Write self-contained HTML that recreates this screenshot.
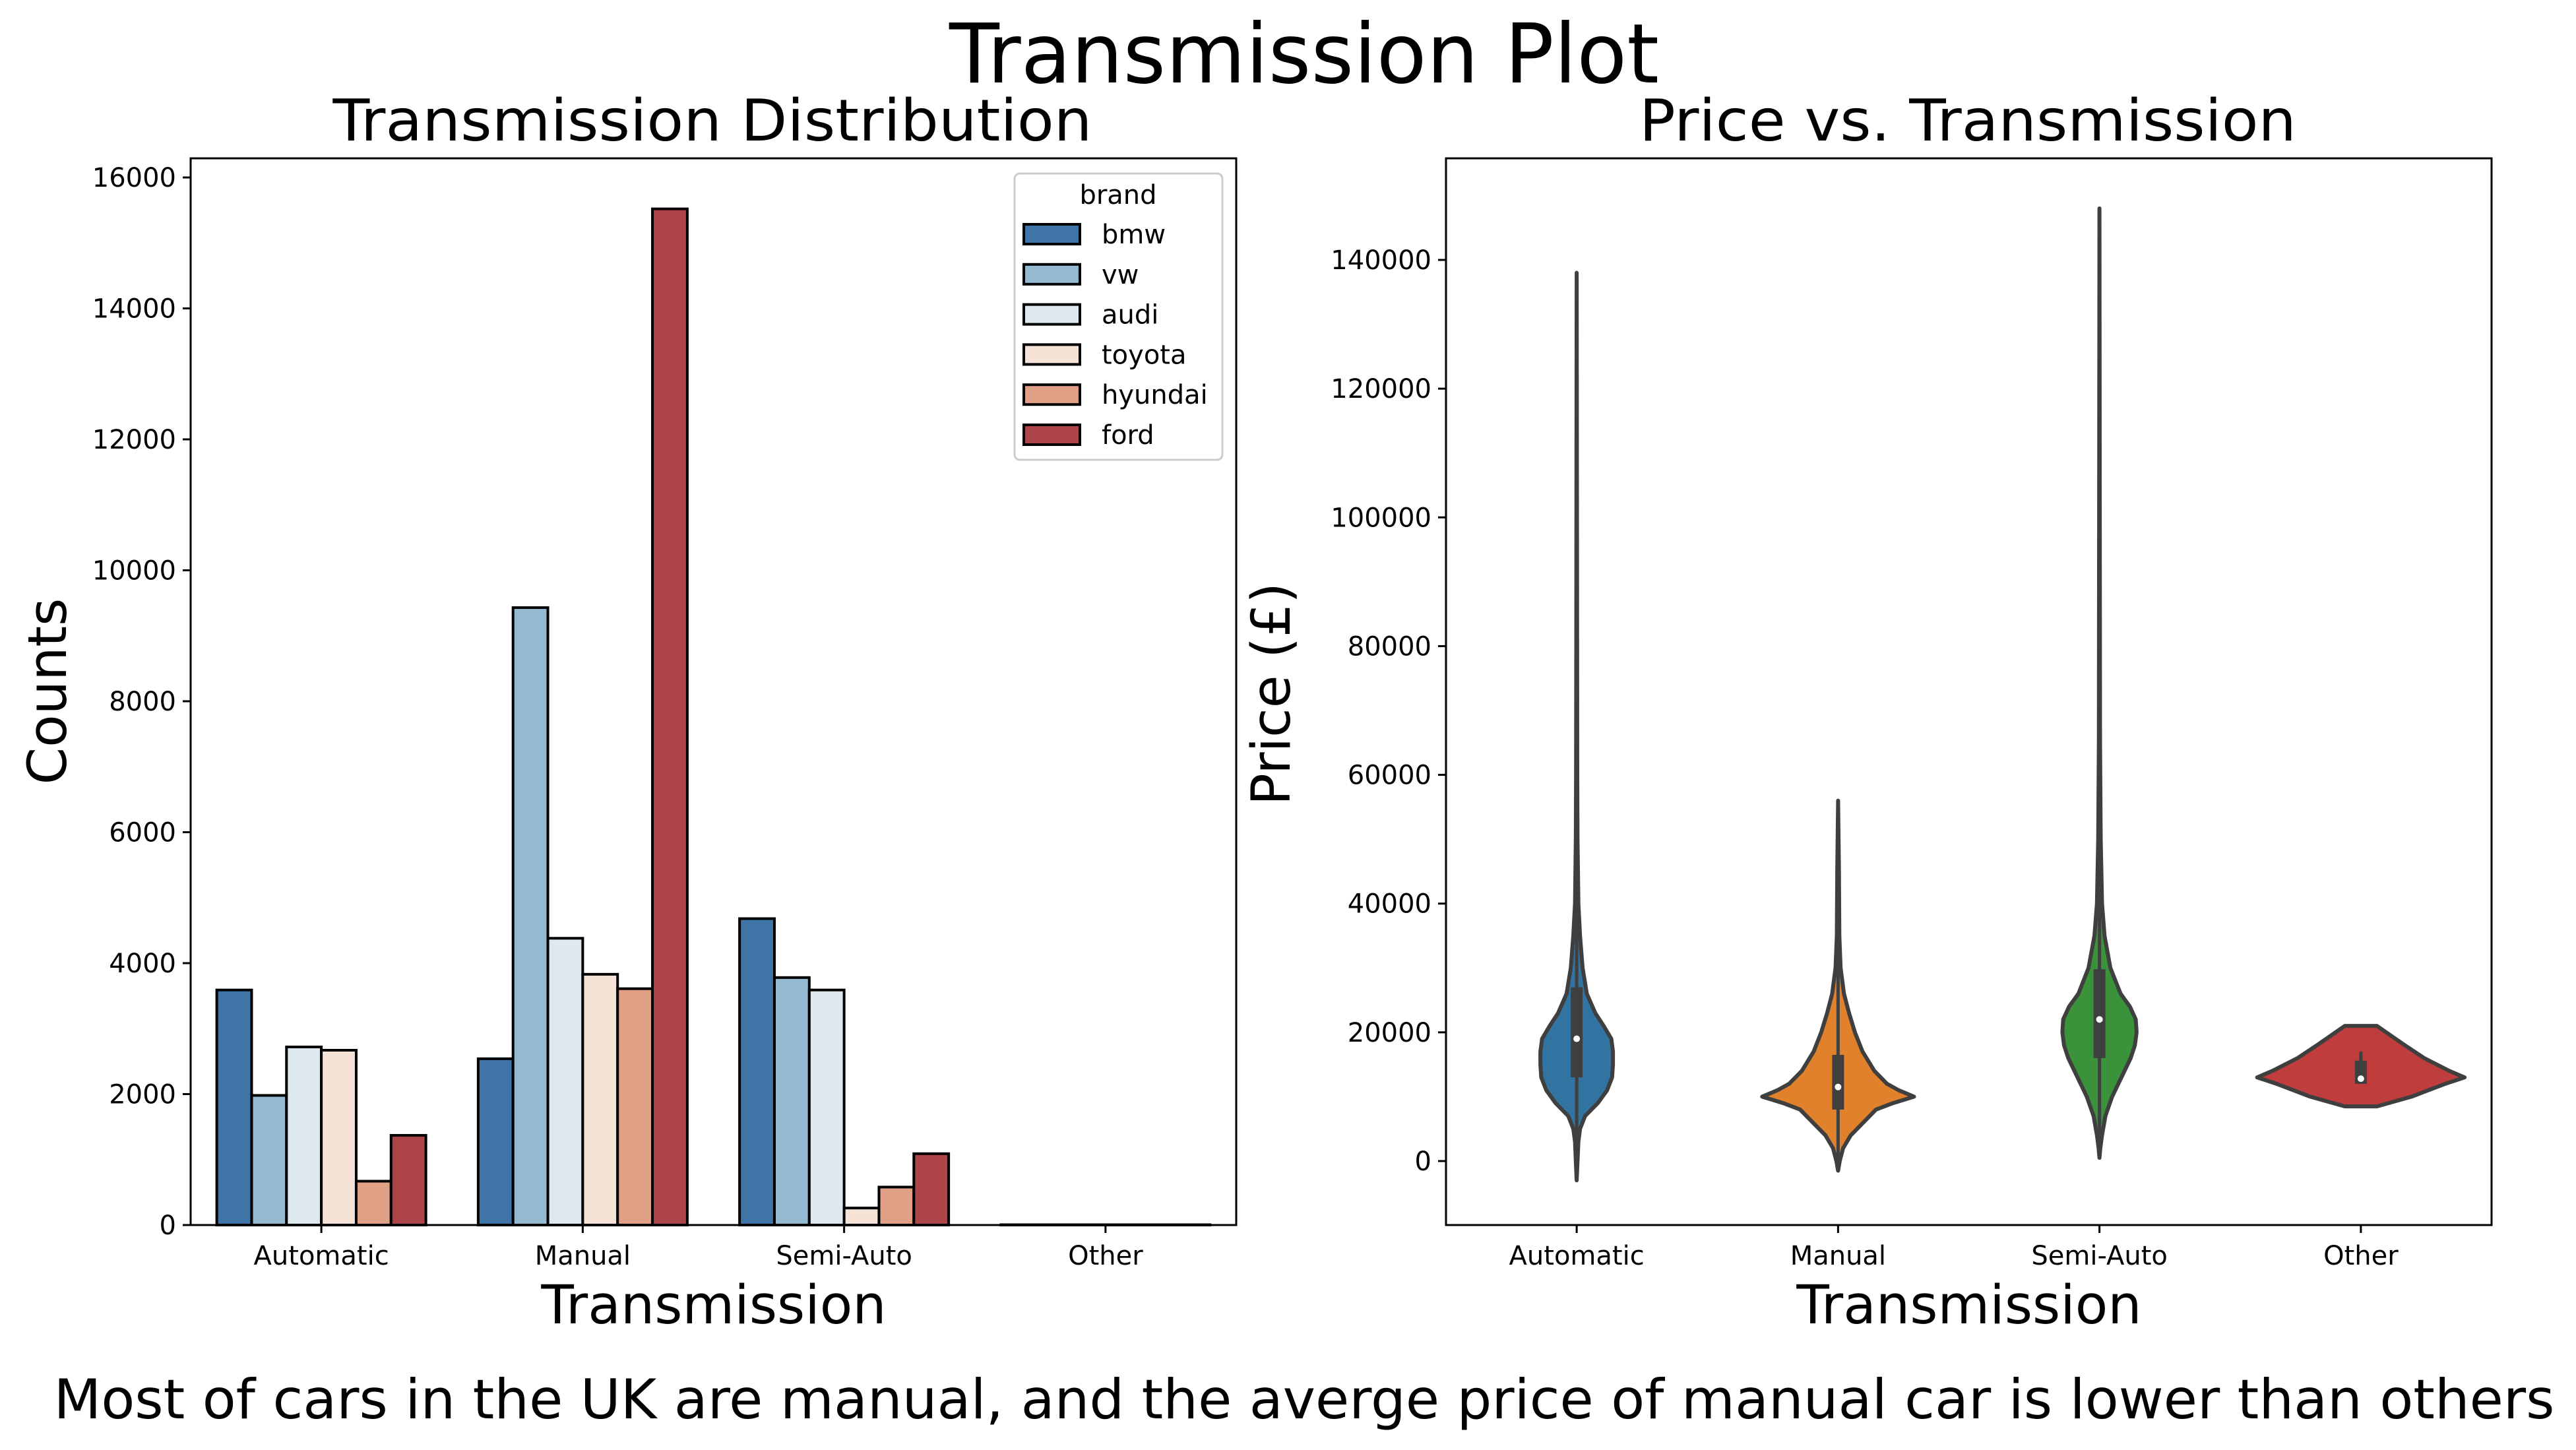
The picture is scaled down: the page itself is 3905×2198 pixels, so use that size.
<!DOCTYPE html>
<html><head><meta charset="utf-8"><style>
html,body{margin:0;padding:0;background:#fff}
svg{display:block;font-family:"DejaVu Sans","Liberation Sans",sans-serif}
</style></head><body>
<svg id="fig" width="3905" height="2198" viewBox="0 0 3905 2198" xmlns="http://www.w3.org/2000/svg">
<text x="1977" y="125" font-size="125" text-anchor="middle" textLength="1076" lengthAdjust="spacingAndGlyphs">Transmission Plot</text>
<text x="1080" y="213" font-size="87" text-anchor="middle" textLength="1151" lengthAdjust="spacingAndGlyphs">Transmission Distribution</text>
<text x="2983" y="213" font-size="87" text-anchor="middle" textLength="996" lengthAdjust="spacingAndGlyphs">Price vs. Transmission</text>
<g id="left"></g>
<g id="right"></g>
<text x="1977" y="2150" font-size="83" text-anchor="middle" textLength="3791" lengthAdjust="spacingAndGlyphs">Most of cars in the UK are manual, and the averge price of manual car is lower than others</text>
</svg>
<script>
const categories = ["Automatic","Manual","Semi-Auto","Other"];
const brands = ["bmw","vw","audi","toyota","hyundai","ford"];
const brandColors = ["#3e75a6","#94bad1","#dde8ef","#f5e3d8","#e0a086","#ad444a"];
const countsBmw = [3590, 2540, 4680, 5];
const countsVw = [1980, 9430, 3780, 5];
const countsAudi = [2720, 4380, 3590, 5];
const countsToyota = [2670, 3830, 260, 5];
const countsHyundai = [670, 3610, 580, 5];
const countsFord = [1370, 15520, 1090, 5];
const countTicks = [0,2000,4000,6000,8000,10000,12000,14000,16000];
const priceTicks = [0,20000,40000,60000,80000,100000,120000,140000];
const violinColors = ["#3274a1","#e1812c","#3a923a","#c03d3e"];
const autoPrices = [-3000,0,3000,5000,7000,9000,11000,13000,15000,17000,19000,21000,23000,26000,30000,35000,40000,50000,60000,80000,138000];
const autoDensity = [0,1,2,4,10,25,36,42,43,43,41,32,22,12,7,4,2,1,0.7,0.5,0];
const manualPrices = [-1500,0,2000,4000,6000,8000,9000,10000,11000,12000,14000,17000,20000,23000,26000,30000,35000,45000,56000];
const manualDensity = [0,2,6,15,30,45,65,90,72,58,43,29,20,13,7,3,1.5,1,0];
const semiPrices = [500,2000,4000,7000,10000,13000,16000,18000,20000,22000,24000,26000,30000,35000,40000,50000,65000,100000,148000];
const semiDensity = [0,1,3,7,15,26,37,42,44,43,36,25,13,6,3,1.5,0.7,0.4,0];
const otherPrices = [8500,10000,12000,13000,14000,16000,18000,20000,21000];
const otherDensity = [19,60,100,123,105,75,52,30,19];
const boxQ1 = [13000, 8000, 16000, 12000];
const boxQ3 = [27000, 16500, 29800, 15600];
const boxMedian = [19000, 11500, 22000, 12800];

const NS="http://www.w3.org/2000/svg";
function mk(parent, tag, attrs){const e=document.createElementNS(NS,tag);for(const k in attrs)e.setAttribute(k,attrs[k]);parent.appendChild(e);return e;}

// ---------- left bar chart ----------
const L={x0:289,x1:1874,y0:240,y1:1857};
const yL=v=>L.y1-v*(L.y1-269)/16000;
const xL=i=>L.x0+(L.x1-L.x0)*(i+0.5)/categories.length;
const left=document.getElementById('left');
const series=[countsBmw,countsVw,countsAudi,countsToyota,countsHyundai,countsFord];
const band=(L.x1-L.x0)/categories.length, bw=band*0.8/brands.length;
series.forEach((vals,b)=>{vals.forEach((v,i)=>{
  const x=xL(i)-band*0.4+b*bw;
  const r=mk(left,'rect',{x:x,y:yL(v),width:bw,height:L.y1-yL(v),fill:brandColors[b],stroke:'#000','stroke-width':4});
  
  
});});
let fr=mk(left,'rect',{x:L.x0,y:L.y0,width:L.x1-L.x0,height:L.y1-L.y0,fill:'none',stroke:'#000','stroke-width':3});


countTicks.forEach(t=>{
  mk(left,'line',{x1:L.x0-12,x2:L.x0,y1:yL(t),y2:yL(t),stroke:'#000','stroke-width':3});
  const tx=mk(left,'text',{x:L.x0-22,y:yL(t)+14,'font-size':40,'text-anchor':'end'});tx.textContent=t;
  
  
});
categories.forEach((c,i)=>{
  mk(left,'line',{x1:xL(i),x2:xL(i),y1:L.y1,y2:L.y1+12,stroke:'#000','stroke-width':3});
  const tx=mk(left,'text',{x:xL(i),y:1917,'font-size':40,'text-anchor':'middle'});tx.textContent=c;
  
  
});
let t1=mk(left,'text',{x:1082,y:2006,'font-size':81,'text-anchor':'middle'});t1.textContent='Transmission';


let t2=mk(left,'text',{x:0,y:0,'font-size':81,'text-anchor':'middle',transform:'translate(100,1048) rotate(-90)'});t2.textContent='Counts';


// legend
const lg=mk(left,'g',{});


mk(lg,'rect',{x:1538,y:263,width:315,height:434,rx:8,fill:'#fff',stroke:'#ccc','stroke-width':3});
let lt=mk(lg,'text',{x:1695,y:309,'font-size':40,'text-anchor':'middle'});lt.textContent='brand';
brands.forEach((b,k)=>{
  const cy=355+k*60.8;
  const e=mk(lg,'g',{});
  
  
  mk(e,'rect',{x:1552,y:cy-15,width:85,height:30,fill:brandColors[k],stroke:'#000','stroke-width':4});
  const tx=mk(e,'text',{x:1670,y:cy+14,'font-size':40});tx.textContent=b;
});

// ---------- right violin chart ----------
const R={x0:2192,x1:3777,y0:240,y1:1857};
const yR=v=>1760-v*(1760-394)/140000;
const xR=i=>R.x0+(R.x1-R.x0)*(i+0.5)/categories.length;
const right=document.getElementById('right');
const wScale=1.2787;
const vp=[autoPrices,manualPrices,semiPrices,otherPrices], vd=[autoDensity,manualDensity,semiDensity,otherDensity];
categories.forEach((c,i)=>{
  const cx=xR(i),P=vp[i],D=vd[i];
  let pts=[];
  for(let k=0;k<P.length;k++)pts.push([cx+D[k]*wScale,yR(P[k])]);
  for(let k=P.length-1;k>=0;k--)pts.push([cx-D[k]*wScale,yR(P[k])]);
  const p=mk(right,'path',{d:'M'+pts.map(q=>q[0].toFixed(1)+','+q[1].toFixed(1)).join('L')+'Z',fill:violinColors[i],stroke:'#3f3f3f','stroke-width':6,'stroke-linejoin':'round'});
  
  
  const lo=i===3?boxQ1[i]:P[0], hi=i===3?17000:P[P.length-1];
  mk(right,'line',{x1:cx,x2:cx,y1:yR(lo),y2:yR(hi),stroke:'#3f3f3f','stroke-width':5});
  const bx=mk(right,'rect',{x:cx-9,y:yR(boxQ3[i]),width:18,height:yR(boxQ1[i])-yR(boxQ3[i]),fill:'#3f3f3f'});
  
  
  mk(right,'circle',{cx:cx,cy:yR(boxMedian[i]),r:5,fill:'#fff'});
});
let fr2=mk(right,'rect',{x:R.x0,y:R.y0,width:R.x1-R.x0,height:R.y1-R.y0,fill:'none',stroke:'#000','stroke-width':3});


priceTicks.forEach(t=>{
  mk(right,'line',{x1:R.x0-12,x2:R.x0,y1:yR(t),y2:yR(t),stroke:'#000','stroke-width':3});
  const tx=mk(right,'text',{x:R.x0-22,y:yR(t)+14,'font-size':40,'text-anchor':'end'});tx.textContent=t;
  
  
});
categories.forEach((c,i)=>{
  mk(right,'line',{x1:xR(i),x2:xR(i),y1:R.y1,y2:R.y1+12,stroke:'#000','stroke-width':3});
  const tx=mk(right,'text',{x:xR(i),y:1917,'font-size':40,'text-anchor':'middle'});tx.textContent=c;
  
  
});
let t3=mk(right,'text',{x:2985,y:2006,'font-size':81,'text-anchor':'middle'});t3.textContent='Transmission';


let t4=mk(right,'text',{x:0,y:0,'font-size':81,'text-anchor':'middle',transform:'translate(1955,1052) rotate(-90)'});t4.textContent='Price (£)';


</script>
</body></html>
